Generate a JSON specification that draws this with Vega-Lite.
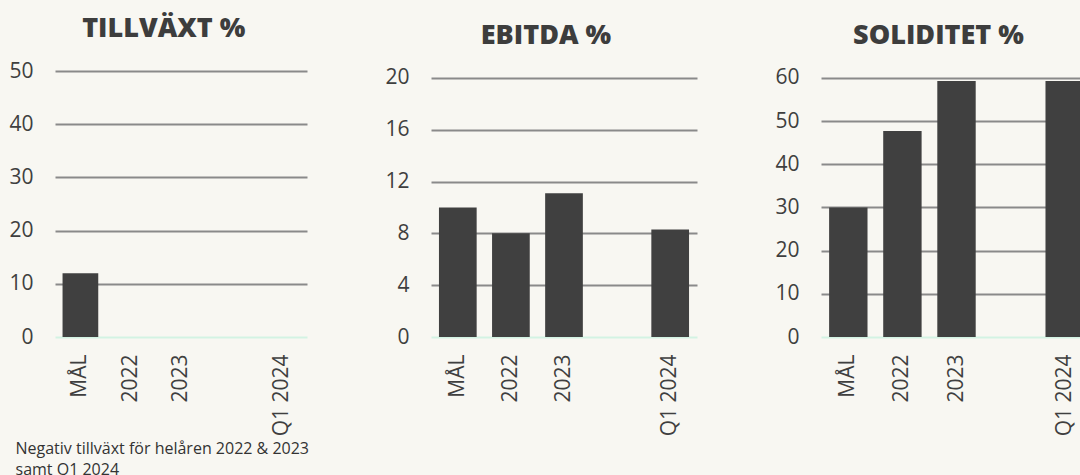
{
  "$schema": "https://vega.github.io/schema/vega-lite/v6.json",
  "background": "#f8f7f2",
  "padding": {"left": 8, "top": 15, "right": 0, "bottom": 0},
  "spacing": 124,
  "bounds": "flush",
  "datasets": {
    "tillvaxt": [
      {"kategori": "MÅL", "varde": 12}
    ],
    "ebitda": [
      {"kategori": "MÅL", "varde": 10},
      {"kategori": "2022", "varde": 8},
      {"kategori": "2023", "varde": 11.1},
      {"kategori": "Q1 2024", "varde": 8.3}
    ],
    "soliditet": [
      {"kategori": "MÅL", "varde": 30},
      {"kategori": "2022", "varde": 47.7},
      {"kategori": "2023", "varde": 59.3},
      {"kategori": "Q1 2024", "varde": 59.3}
    ]
  },
  "config": {
    "view": {"stroke": null},
    "axis": {
      "labelFont": "Open Sans",
      "labelFontSize": 21,
      "labelColor": "#3f3f3f",
      "ticks": false,
      "domain": false,
      "titleFont": "Open Sans"
    },
    "axisY": {
      "labelPadding": 22,
      "gridColor": {"condition": {"test": "datum.value === 0", "value": "#d3f3e3"}, "value": "#8a8a8a"},
      "gridWidth": 1.8
    },
    "axisX": {
      "labelAngle": -90,
      "labelPadding": 17,
      "grid": false
    },
    "title": {
      "font": "Open Sans",
      "fontSize": 27,
      "fontWeight": 800,
      "color": "#3d3d3d",
      "anchor": "middle",
      "frame": "bounds",
      "baseline": "alphabetic",
      "offset": 17,
      "dx": 5
    },
    "bar": {"color": "#404040"}
  },
  "hconcat": [
    {
      "title": "TILLVÄXT %",
      "width": 252,
      "height": 266,
      "data": {"name": "tillvaxt"},
      "mark": {"type": "bar"},
      "encoding": {
        "x": {
          "field": "kategori", "type": "nominal",
          "scale": {"domain": ["MÅL", "2022", "2023", " ", "Q1 2024"], "paddingInner": 0.29, "paddingOuter": 0.15},
          "axis": {
            "title": ["Negativ tillväxt för helåren 2022 & 2023", "samt Q1 2024"],
            "titleFontSize": 16,
            "titleFontWeight": "normal",
            "titleColor": "#333333",
            "titleAnchor": "start",
            "titleAlign": "left",
            "titleBaseline": "alphabetic",
            "titleX": -40,
            "titleY": 116,
            "titleLineHeight": 21
          }
        },
        "y": {
          "field": "varde", "type": "quantitative",
          "scale": {"domain": [0, 50], "nice": false},
          "axis": {"title": null, "values": [0, 10, 20, 30, 40, 50]}
        }
      }
    },
    {
      "title": "EBITDA %",
      "width": 266,
      "height": 266,
      "data": {"name": "ebitda"},
      "mark": {"type": "bar"},
      "encoding": {
        "x": {
          "field": "kategori", "type": "nominal",
          "scale": {"domain": ["MÅL", "2022", "2023", " ", "Q1 2024"], "paddingInner": 0.29, "paddingOuter": 0.15},
          "axis": {"title": null}
        },
        "y": {
          "field": "varde", "type": "quantitative",
          "scale": {"domain": [0, 20.53], "nice": false},
          "axis": {"title": null, "values": [0, 4, 8, 12, 16, 20]}
        }
      }
    },
    {
      "title": "SOLIDITET %",
      "width": 271,
      "height": 266,
      "data": {"name": "soliditet"},
      "mark": {"type": "bar"},
      "encoding": {
        "x": {
          "field": "kategori", "type": "nominal",
          "scale": {"domain": ["MÅL", "2022", "2023", " ", "Q1 2024"], "paddingInner": 0.29, "paddingOuter": 0.15},
          "axis": {"title": null}
        },
        "y": {
          "field": "varde", "type": "quantitative",
          "scale": {"domain": [0, 61.6], "nice": false},
          "axis": {"title": null, "values": [0, 10, 20, 30, 40, 50, 60]}
        }
      }
    }
  ]
}
